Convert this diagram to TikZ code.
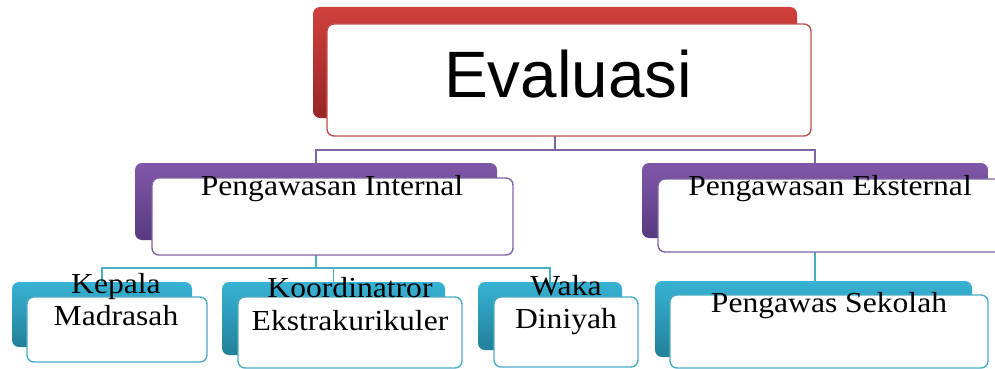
\documentclass[tikz,border=0pt]{standalone}
\usepackage{fontspec}
\setmainfont{Liberation Serif}
\newfontfamily\evfont{Liberation Sans}
\definecolor{redA}{RGB}{208,64,60}
\definecolor{redB}{RGB}{150,38,38}
\definecolor{redL}{RGB}{192,80,77}
\definecolor{purA}{RGB}{128,88,168}
\definecolor{purB}{RGB}{88,58,128}
\definecolor{purL}{RGB}{128,100,162}
\definecolor{tealA}{RGB}{56,178,212}
\definecolor{tealB}{RGB}{34,128,152}
\definecolor{tealL}{RGB}{75,172,198}
\tikzset{
  tab/.style={rectangle, rounded corners=7pt, draw=none, inner sep=0pt, outer sep=0pt},
  redtab/.style={tab, top color=redA, bottom color=redB},
  purtab/.style={tab, top color=purA, bottom color=purB},
  tealtab/.style={tab, top color=tealA, bottom color=tealB},
  box/.style={rectangle, rounded corners=7pt, fill=white, line width=1.4pt, inner sep=0pt, outer sep=0pt},
  redbox/.style={box, draw=redL},
  purbox/.style={box, draw=purL},
  tealbox/.style={box, draw=tealL},
  purline/.style={draw=purL, line width=1.4pt},
  tealline/.style={draw=tealL, line width=1.4pt},
  lbl/.style={anchor=base, inner sep=0pt, font=\fontsize{29}{33}\selectfont},
}
\newcommand{\sx}[1]{\scalebox{1.09}[1]{#1}}
\begin{document}
\begin{tikzpicture}[x=1pt,y=-1pt]
\useasboundingbox (0,0) rectangle (995,369);
\clip (0,0) rectangle (995,369);
% tabs
\node[redtab, minimum width=484pt, minimum height=111pt] (evT) at (555,62.5) {};
\node[purtab, minimum width=362pt, minimum height=77pt] (inT) at (316,201.5) {};
\node[purtab, minimum width=346pt, minimum height=75pt] (exT) at (815,200.5) {};
\node[tealtab, minimum width=180pt, minimum height=65pt] (kpT) at (102,314.5) {};
\node[tealtab, minimum width=223pt, minimum height=73pt] (koT) at (333.5,318.5) {};
\node[tealtab, minimum width=144pt, minimum height=68pt] (waT) at (550,316) {};
\node[tealtab, minimum width=317pt, minimum height=76pt] (seT) at (813.5,319) {};
% connectors
\draw[purline] (evT.south) -- ++(0,32) -| (inT.north);
\draw[purline] (evT.south) -- ++(0,32) -| (exT.north);
\draw[tealline] (inT.south) -- ++(0,28) -| (kpT.north);
\draw[tealline] (inT.south) -- ++(0,28) -| (koT.north);
\draw[tealline] (inT.south) -- ++(0,28) -| (waT.north);
\draw[tealline] (exT.south) -- (exT.south |- seT.north);
% white boxes
\node[redbox, minimum width=484pt, minimum height=112pt] (evB) at (569,80) {};
\node[purbox, minimum width=361pt, minimum height=77pt] (inB) at (332.5,216.5) {};
\node[purbox, minimum width=352pt, minimum height=73pt] (exB) at (834,215.5) {};
\node[tealbox, minimum width=180pt, minimum height=65pt] (kpB) at (117,329.5) {};
\node[tealbox, minimum width=224pt, minimum height=71pt] (koB) at (350,332.5) {};
\node[tealbox, minimum width=144pt, minimum height=70pt] (waB) at (566,332) {};
\node[tealbox, minimum width=318pt, minimum height=73pt] (seB) at (829,331.5) {};
% texts
\node[anchor=base, inner sep=0pt, font=\evfont\fontsize{65.6}{70}\selectfont] (evL) at (568,97) {Evaluasi};
\node[lbl] (inL) at (332,195) {\sx{Pengawasan Internal}};
\node[lbl] (exL) at (830,195) {\sx{Pengawasan Eksternal}};
\node[lbl] (kpL1) at (116,293) {\sx{Kepala}};
\node[lbl] (kpL2) at (116,325) {\sx{Madrasah}};
\node[lbl] (koL1) at (350,297) {\sx{Koordinatror}};
\node[lbl] (koL2) at (350,330) {\sx{Ekstrakurikuler}};
\node[lbl] (waL1) at (566,295) {\sx{Waka}};
\node[lbl] (waL2) at (566,328) {\sx{Diniyah}};
\node[lbl] (seL) at (829,312) {\sx{Pengawas Sekolah}};
\end{tikzpicture}
\end{document}
